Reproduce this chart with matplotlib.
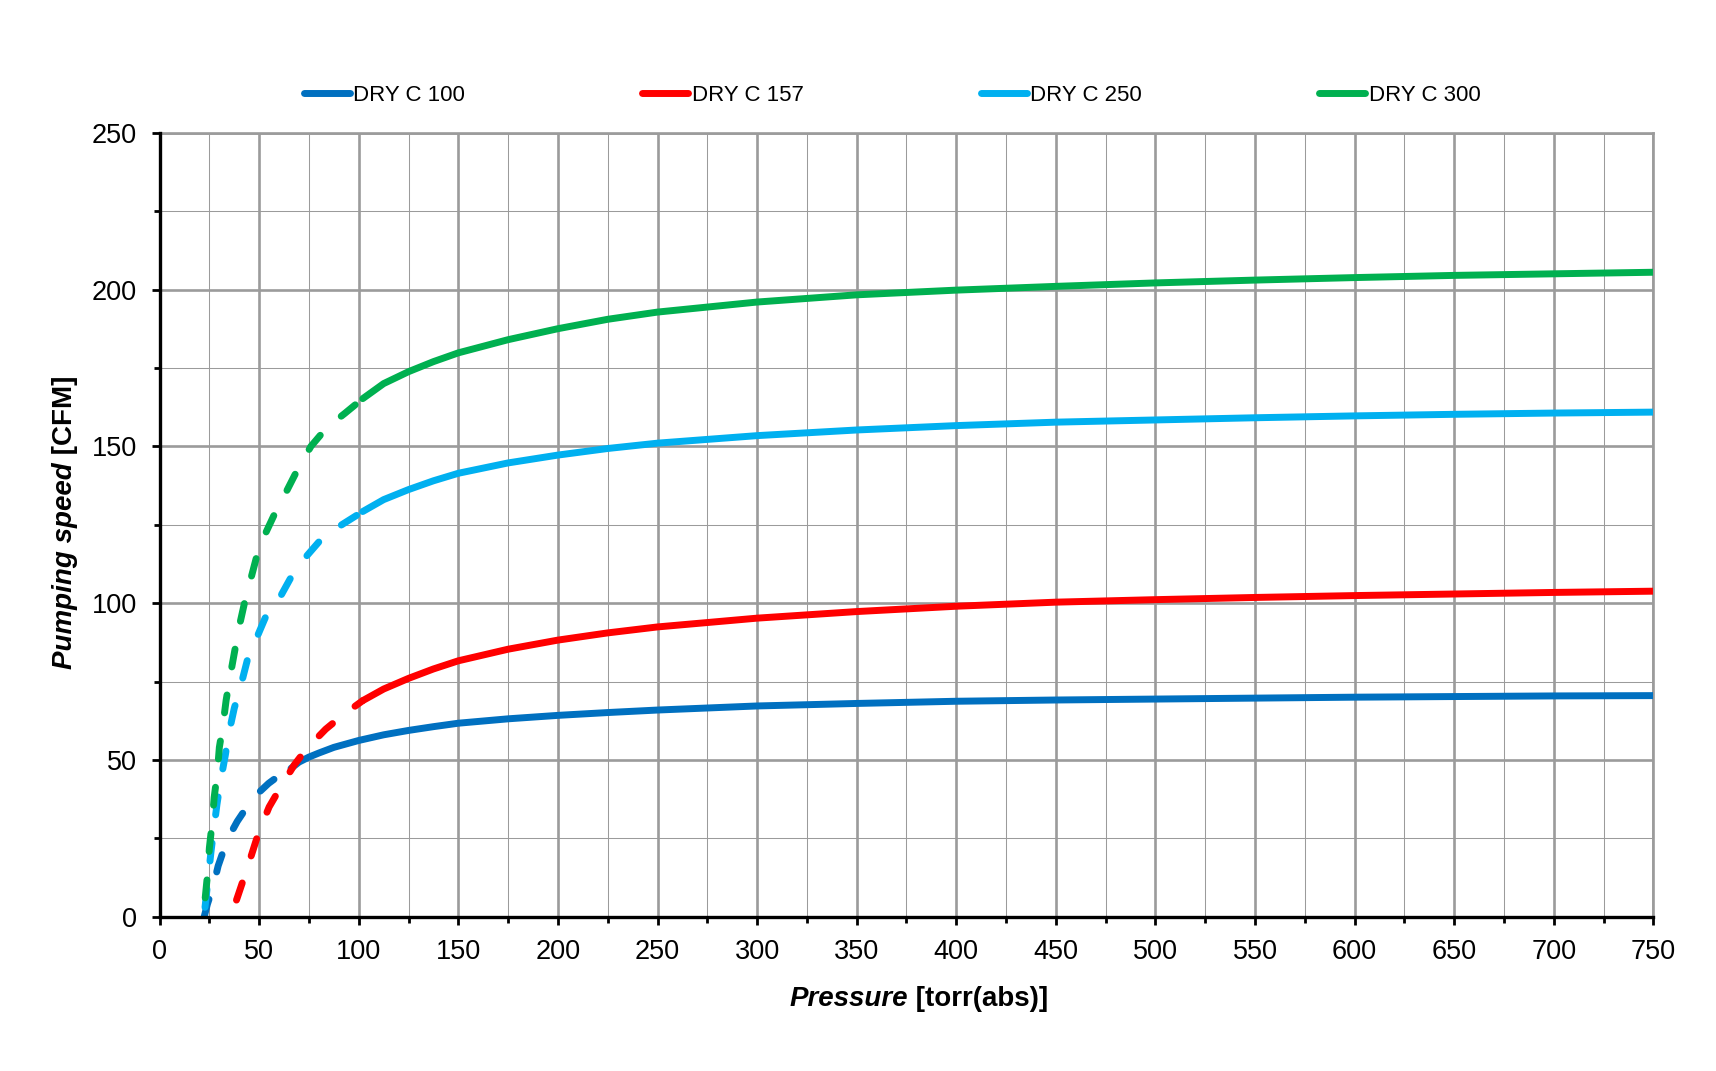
import numpy as np
import matplotlib
matplotlib.use('Agg')
import matplotlib.pyplot as plt
from matplotlib.ticker import MultipleLocator

plt.rcParams['font.family'] = ['Liberation Sans', 'DejaVu Sans']

# ---------------- data ----------------
series_names = ['DRY C 100', 'DRY C 157', 'DRY C 250', 'DRY C 300']
series_colors = ['#0070C0', '#FF0000', '#00B0F0', '#00B050']

p_c100 = [22.4, 24, 26.9, 29.4, 34, 39, 46.8, 54.7, 60, 66, 70, 75, 80, 87.5, 100, 112.5,
          125, 137.5, 150, 175, 200, 225, 250, 300, 350, 400, 450, 500, 550, 600, 650, 700, 750]
s_c100 = [0, 4, 9.6, 16.2, 24.6, 30.4, 37.8, 42.5, 45.0, 47.3, 49.3, 50.9, 52.2, 54.0, 56.2, 58.0,
          59.4, 60.6, 61.7, 63.1, 64.2, 65.1, 65.9, 67.2, 68.0, 68.7, 69.1, 69.4, 69.7, 70.0,
          70.2, 70.4, 70.5]

p_c157 = [38.6, 42.1, 46.3, 49.7, 55, 60.5, 67.6, 74, 83.4, 92, 102, 112.5, 125, 137.5, 150,
          175, 200, 225, 250, 300, 350, 400, 450, 500, 550, 600, 650, 700, 750]
s_c157 = [5.3, 11.9, 20, 26.8, 35, 41, 48.4, 53.7, 59.8, 64.3, 68.9, 72.6, 76.0, 79.0, 81.6,
          85.3, 88.2, 90.5, 92.4, 95.2, 97.3, 99.0, 100.3, 101.1, 101.8, 102.4, 102.9, 103.4,
          103.8]

p_c250 = [22.8, 23.5, 24.5, 25.8, 27, 28.8, 30.4, 33, 34.6, 37.5, 40.5, 44, 48, 53.5, 59.7,
          67, 73.4, 82, 91.5, 102, 112.5, 125, 137.5, 150, 175, 200, 225, 250, 300, 350, 400,
          450, 500, 550, 600, 650, 700, 750]
s_c250 = [3, 7, 13, 20.7, 26.8, 35.8, 42.5, 51.5, 58, 66.5, 73, 81.7, 87.8, 96, 101,
          109.4, 114.7, 121, 125, 129.2, 133.0, 136.2, 139.0, 141.4, 144.7, 147.2, 149.3, 151.0,
          153.4, 155.2, 156.6, 157.7, 158.4, 159.1, 159.7, 160.2, 160.6, 160.9]

p_c300 = [22.9, 24.2, 25, 26.4, 27.4, 29, 30, 31.8, 33.4, 35.5, 37.5, 39.8, 42.6, 45.5,
          48.8, 53, 58.9, 64, 70, 76, 84, 93, 102, 112.5, 125, 137.5, 150, 175, 200, 225, 250,
          300, 350, 400, 450, 500, 550, 600, 650, 700, 750]
s_c300 = [6, 14.4, 22, 30, 38, 46, 54, 61, 69, 77, 84, 92, 100, 107,
          115, 122, 130, 136, 143.5, 150, 156, 160.5, 165.2, 170.0, 173.8, 177.0, 179.8, 184.0,
          187.5, 190.5, 192.8, 196, 198.3, 199.8, 201, 202.1, 203, 203.8, 204.5, 205, 205.5]

# pressure from which each curve is drawn solid (dashed below)
solid_from = [66, 102, 102, 102]

x_ticks = list(range(0, 751, 50))
y_ticks = list(range(0, 251, 50))

pressures = [p_c100, p_c157, p_c250, p_c300]
speeds = [s_c100, s_c157, s_c250, s_c300]

# ---------------- figure ----------------
W, H = 1716, 1071
fig = plt.figure(figsize=(W / 100, H / 100), dpi=100)
ax = fig.add_axes([159.6 / W, 1 - 916.7 / H, (1653.3 - 159.6) / W, (916.7 - 132.7) / H])

grid_col = '#9B9B9B'
LW = 5.0
handles = []
for i, (p, s) in enumerate(zip(pressures, speeds)):
    p = np.asarray(p, float)
    s = np.asarray(s, float)
    sp = solid_from[i]
    md = p <= sp
    ms = p >= sp
    ax.plot(p[md], s[md], color=series_colors[i], lw=LW, dashes=(2.6, 4.1),
            dash_capstyle='round', dash_joinstyle='round', zorder=3 + i)
    h, = ax.plot(p[ms], s[ms], color=series_colors[i], lw=LW, solid_capstyle='round',
                 solid_joinstyle='round', zorder=3 + i, label=series_names[i])
    handles.append(h)

ax.set_xlim(0, 750)
ax.set_ylim(0, 250)
ax.set_xticks(x_ticks)
ax.set_yticks(y_ticks)
ax.xaxis.set_minor_locator(MultipleLocator(25))
ax.yaxis.set_minor_locator(MultipleLocator(25))
ax.grid(True, which='major', color=grid_col, lw=1.9, zorder=1)
ax.grid(True, which='minor', color=grid_col, lw=0.75, zorder=1)
ax.set_axisbelow(True)

for side in ['left', 'bottom']:
    ax.spines[side].set_color('black')
    ax.spines[side].set_linewidth(2.4)
    ax.spines[side].set_zorder(10)
for side in ['top', 'right']:
    ax.spines[side].set_color(grid_col)
    ax.spines[side].set_linewidth(1.9)

ax.tick_params(axis='both', which='major', direction='out', length=5.5, width=2.0,
               color='black', labelsize=19.5)
ax.tick_params(axis='both', which='minor', direction='out', length=4.5, width=2.0,
               color='black')
ax.tick_params(axis='x', which='major', pad=10.5)
ax.tick_params(axis='y', which='major', pad=11)
ax.tick_params(top=False, right=False, which='both')

# legend
fig.legend(handles=handles, labels=series_names, loc='center left',
           bbox_to_anchor=(303.5 / W, 1 - 95.5 / H), ncol=4, frameon=False,
           fontsize=16, handlelength=2.07, handletextpad=0.16, columnspacing=7.97,
           borderpad=0, borderaxespad=0)

# axis labels with mixed styles
r = fig.canvas.get_renderer()
FS = 20
t1 = fig.text(0, 0, 'Pressure', fontsize=FS, fontweight='bold', fontstyle='italic',
              ha='left', va='baseline')
t2 = fig.text(0, 0, ' [torr(abs)]', fontsize=FS, fontweight='bold', ha='left', va='baseline')
w1 = t1.get_window_extent(r).width
w2 = t2.get_window_extent(r).width
cx = 918.5
x0 = cx - (w1 + w2) / 2
yb = 1 - 1006 / H
t1.set_position((x0 / W, yb))
t2.set_position(((x0 + w1) / W, yb))

u1 = fig.text(0, 0, 'Pumping speed', fontsize=FS, fontweight='bold', fontstyle='italic',
              ha='left', va='baseline', rotation=90, rotation_mode='anchor')
u2 = fig.text(0, 0, ' [CFM]', fontsize=FS, fontweight='bold',
              ha='left', va='baseline', rotation=90, rotation_mode='anchor')
h1 = u1.get_window_extent(r).height
h2 = u2.get_window_extent(r).height
cy = H - 522.6
y0 = cy - (h1 + h2) / 2
xb = 72 / W
u1.set_position((xb, y0 / H))
u2.set_position((xb, (y0 + h1) / H))

fig.savefig('out.png', dpi=100)
